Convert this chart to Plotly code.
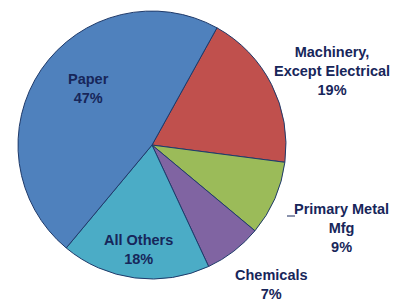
import plotly.graph_objects as go

categories = ["Machinery,<br>Except Electrical", "Primary Metal<br>Mfg", "Chemicals", "All Others", "Paper"]
values = [19, 9, 7, 18, 47]
colors = ["#C0504D", "#9BBB59", "#8064A2", "#4BACC6", "#4F81BD"]
# label anchor positions in pixels (x, y) for a 400x302 canvas
label_pos = [(324, 63), (333, 220), (263, 276), (130, 241), (80, 81)]

W, H = 400, 302
fig = go.Figure(go.Pie(
    labels=categories,
    values=values,
    sort=False,
    direction="clockwise",
    rotation=29,
    marker=dict(colors=colors, line=dict(color="#1F3A6A", width=1)),
    textinfo="none",
    hoverinfo="label+percent",
    domain=dict(x=[0.025, 0.695], y=[0.1025, 0.99]),
    showlegend=False,
))

font = dict(family="Liberation Sans, Arial", size=14.5, color="#17265A")
for cat, val, (px, py) in zip(categories, values, label_pos):
    fig.add_annotation(
        x=px / W, y=1 - py / H, xref="paper", yref="paper",
        text=f"<b>{cat}<br>{val}%</b>", showarrow=False,
        font=font, align="center", xanchor="center", yanchor="middle",
    )

# short leader for Primary Metal label
fig.add_shape(type="line", x0=279 / W, x1=287 / W, y0=1 - 208 / H, y1=1 - 208 / H,
              xref="paper", yref="paper", line=dict(color="#17265A", width=1))

fig.update_layout(
    width=W, height=H,
    margin=dict(l=0, r=0, t=0, b=0),
    paper_bgcolor="white", plot_bgcolor="white",
)
fig.write_html("out.html")
